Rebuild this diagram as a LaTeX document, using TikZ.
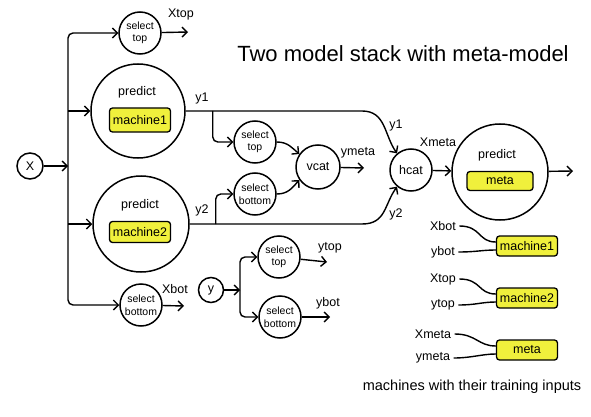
\documentclass[tikz,border=0pt]{standalone}
\usepackage{fontspec}
\setmainfont{Liberation Sans}
\usetikzlibrary{arrows.meta,positioning}
\definecolor{stkYellow}{RGB}{240,240,60}
\begin{document}
\begin{tikzpicture}[x=1pt,y=-1pt,
    stkCirc/.style={draw,circle,line width=1.5pt,inner sep=0pt,minimum size=#1},
    stkCirc/.default=26pt,
    stkSel/.style={stkCirc=42pt,align=center,font=\fontsize{10.5}{12.5}\selectfont},
    stkBox/.style={draw,fill=stkYellow,line width=1.3pt,rounded corners=3pt,minimum width=61pt,minimum height=20pt,inner sep=1pt,font=\fontsize{12.5}{14}\selectfont},
    stkLbl/.style={font=\fontsize{12.5}{14}\selectfont},
    stkArr/.style={-{Straight Barb[length=5pt,width=10pt]},line width=1.4pt},
    stkWire/.style={line width=1.4pt},
]
\useasboundingbox (0,0) rectangle (591,417);
\node[font=\fontsize{22}{26}\selectfont] (title) at (403,54) {Two model stack with meta-model};
% Input X and its trunk
\node[stkCirc,stkLbl] (X) at (30,166) {X};
\coordinate (trunk) at (68,166);
\node[stkSel] (selTopX) at (140,33) {select\\top};
\node[stkSel] (selBotX) at (141,305) {select\\bottom};
\node[stkCirc=94pt] (pm1) at (138,111) {};
\node[stkBox,minimum height=24pt] (m1) at (140,120) {machine1};
\node[stkLbl] (pr1) at (137,92) {predict};
\node[stkCirc=96pt] (pm2) at (141,224) {};
\node[stkBox,minimum height=21pt] (m2) at (140,232) {machine2};
\node[stkLbl] (pr2) at (140,205) {predict};
\draw[stkArr] (X) -- (trunk);
\draw[stkArr,rounded corners=5pt] (trunk) |- (selTopX);
\draw[stkArr,rounded corners=5pt] (trunk) |- (selBotX);
\draw[stkArr] (trunk |- pm1) -- (pm1);
\draw[stkArr] (trunk |- pm2) -- (pm2);
\coordinate (xtopEnd) at (188,32);
\coordinate (xbotEnd) at (184,306);
\draw[stkArr] (selTopX) -- (xtopEnd);
\draw[stkArr] (selBotX) -- (xbotEnd);
\node[stkLbl] (lXtop) at (181,14) {Xtop};
\node[stkLbl] (lXbot) at (175,289) {Xbot};
% Level 1 outputs to vcat and hcat
\node[stkSel] (selTop1) at (255,142) {select\\top};
\node[stkSel] (selBot2) at (255,194) {select\\bottom};
\node[stkCirc=44pt,stkLbl] (vcat) at (318,167) {vcat};
\node[stkCirc=42pt,stkLbl] (hcat) at (411,170) {hcat};
\path (pm1.east) ++(27,0) coordinate (b1);
\path (pm2.east) ++(26,0) coordinate (b2);
\draw[stkArr] (pm1.east) -- (362,111) .. controls (386,111) and (384,135) .. (hcat.130);
\draw[stkArr] (pm2.east) -- (362,224) .. controls (386,224) and (384,205) .. (hcat.230);
\draw[stkArr,rounded corners=5pt] (b1) |- (selTop1);
\draw[stkArr,rounded corners=5pt] (b2) |- (selBot2);
\draw[stkArr] (selTop1.east) .. controls (288,142) and (292,148) .. (vcat.145);
\draw[stkArr] (selBot2.east) .. controls (288,194) and (292,188) .. (vcat.215);
\coordinate (ymEnd) at (364,168);
\draw[stkArr] (vcat) -- (ymEnd);
\node[stkLbl] (ly1) at (202,98) {y1};
\node[stkLbl] (ly2) at (202,210) {y2};
\node[stkLbl] (ly1h) at (396,125) {y1};
\node[stkLbl] (ly2h) at (396,214) {y2};
\node[stkLbl] (lym) at (358,153) {ymeta};
\node[stkLbl] (lXm) at (438,142) {Xmeta};
% Meta model
\node[stkCirc=96pt] (pmeta) at (500,172) {};
\node[stkBox,minimum width=66pt,minimum height=19pt] (mm) at (500,181) {meta};
\node[stkLbl] (prm) at (497,155) {predict};
\coordinate (metaEnd) at (573,171);
\draw[stkArr] (hcat) -- (pmeta);
\draw[stkArr] (pmeta) -- (metaEnd);
% Input y
\node[stkCirc=25pt,stkLbl] (Y) at (211,290) {y};
\coordinate (split) at (240,290);
\node[stkSel] (selTopY) at (279,257) {select\\top};
\node[stkSel] (selBotY) at (280,317) {select\\bottom};
\draw[stkArr] (Y) -- (split);
\draw[stkArr,rounded corners=5pt] (split) |- (selTopY);
\draw[stkArr,rounded corners=5pt] (split) |- (selBotY);
\coordinate (ytopEnd) at (327,262);
\coordinate (ybotEnd) at (330,317);
\draw[stkArr] (selTopY) -- (ytopEnd);
\draw[stkArr] (selBotY) -- (ybotEnd);
\node[stkLbl] (lytop) at (330,248) {ytop};
\node[stkLbl] (lybot) at (328,303) {ybot};
% Legend: machines with their training inputs
\node[stkBox] (m1L) at (527,246) {machine1};
\node[stkBox] (m2L) at (527,298) {machine2};
\node[stkBox] (mmL) at (527,350) {meta};
\node[stkLbl] (gXbot) at (443,226) {Xbot};
\node[stkLbl] (gybot) at (443,252) {ybot};
\node[stkLbl] (gXtop) at (443,279) {Xtop};
\node[stkLbl] (gytop) at (443,305) {ytop};
\node[stkLbl] (gXm) at (433,334) {Xmeta};
\node[stkLbl] (gym) at (433,358) {ymeta};
\draw[stkWire] (gXbot.east) .. controls +(22,0) and +(-18,0) .. ([yshift=4pt]m1L.west);
\draw[stkWire] (gybot.east) .. controls +(18,0) and +(-14,0) .. ([yshift=-4pt]m1L.west);
\draw[stkWire] (gXtop.east) .. controls +(22,0) and +(-18,0) .. ([yshift=4pt]m2L.west);
\draw[stkWire] (gytop.east) .. controls +(18,0) and +(-14,0) .. ([yshift=-4pt]m2L.west);
\draw[stkWire] (gXm.east) .. controls +(22,0) and +(-18,0) .. ([yshift=4pt]mmL.west);
\draw[stkWire] (gym.east) .. controls +(18,0) and +(-14,0) .. ([yshift=-4pt]mmL.west);
\node[font=\fontsize{14.5}{17}\selectfont] (caption) at (472,387) {machines with their training inputs};
\end{tikzpicture}
\end{document}
